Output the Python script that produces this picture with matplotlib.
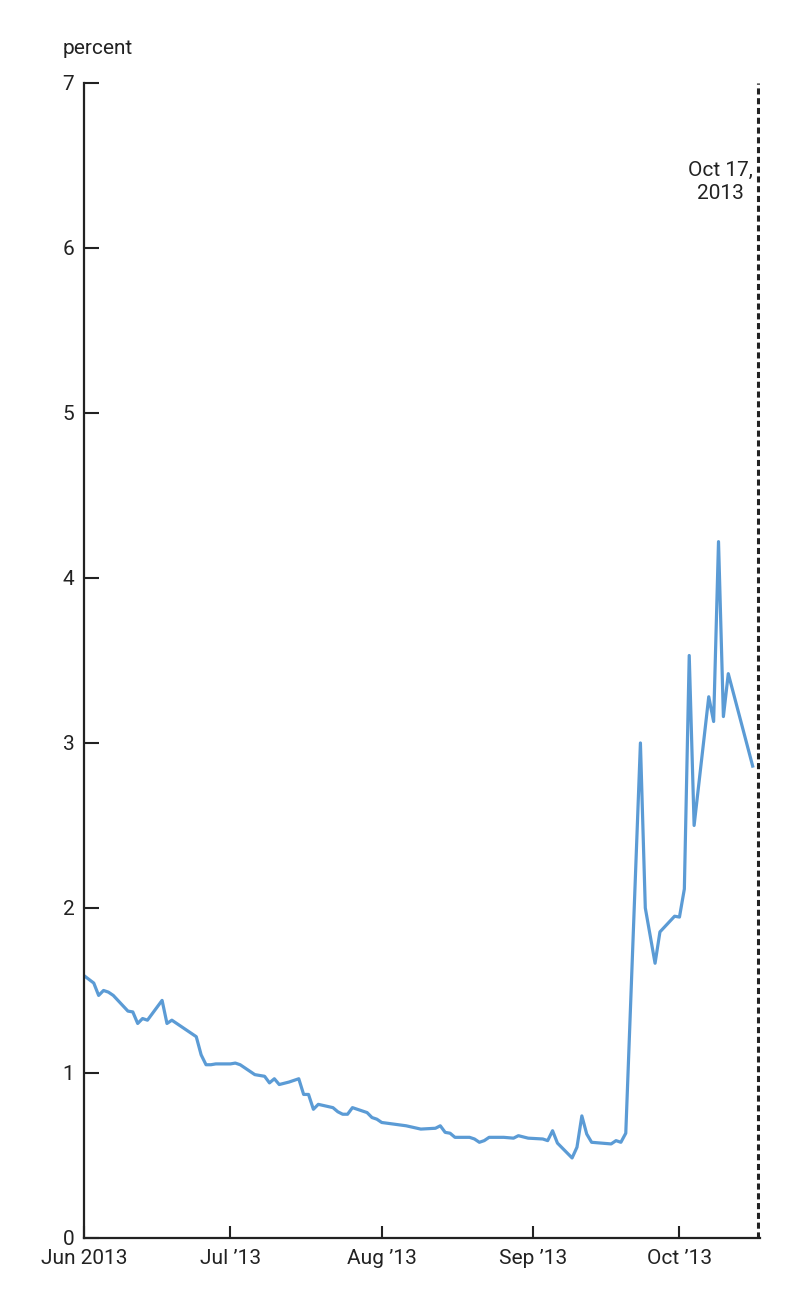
import matplotlib
matplotlib.use('Agg')
import matplotlib.pyplot as plt
import pandas as pd

plt.rcParams['font.family'] = ['Roboto', 'DejaVu Sans']

# daily rate readings, jun - oct 2013
dates = ['2013-06-01', '2013-06-03', '2013-06-04', '2013-06-05', '2013-06-06', '2013-06-07',
         '2013-06-10', '2013-06-11', '2013-06-12', '2013-06-13', '2013-06-14', '2013-06-17',
         '2013-06-18', '2013-06-19', '2013-06-24', '2013-06-25', '2013-06-26', '2013-06-27',
         '2013-06-28', '2013-07-01', '2013-07-02', '2013-07-03', '2013-07-05', '2013-07-06',
         '2013-07-08', '2013-07-09', '2013-07-10', '2013-07-11', '2013-07-13', '2013-07-15',
         '2013-07-16', '2013-07-17', '2013-07-18', '2013-07-19', '2013-07-22', '2013-07-23',
         '2013-07-24', '2013-07-25', '2013-07-26', '2013-07-29', '2013-07-30', '2013-07-31',
         '2013-08-01', '2013-08-06', '2013-08-09', '2013-08-12', '2013-08-13', '2013-08-14',
         '2013-08-15', '2013-08-16', '2013-08-19', '2013-08-20', '2013-08-21', '2013-08-22',
         '2013-08-23', '2013-08-26', '2013-08-28', '2013-08-29', '2013-08-31', '2013-09-03',
         '2013-09-04', '2013-09-05', '2013-09-06', '2013-09-09', '2013-09-10', '2013-09-11',
         '2013-09-12', '2013-09-13', '2013-09-17', '2013-09-18', '2013-09-19', '2013-09-20',
         '2013-09-23', '2013-09-24', '2013-09-26', '2013-09-27', '2013-09-30', '2013-10-01',
         '2013-10-02', '2013-10-03', '2013-10-04', '2013-10-07', '2013-10-08', '2013-10-09',
         '2013-10-10', '2013-10-11', '2013-10-16']
rates = [1.59, 1.545, 1.47, 1.50, 1.49, 1.47,
         1.375, 1.37, 1.30, 1.33, 1.32, 1.44,
         1.30, 1.32, 1.22, 1.11, 1.05, 1.05,
         1.055, 1.055, 1.06, 1.05, 1.01, 0.99,
         0.98, 0.94, 0.965, 0.93, 0.945, 0.965,
         0.87, 0.87, 0.78, 0.81, 0.79, 0.765,
         0.75, 0.75, 0.79, 0.76, 0.73, 0.72,
         0.70, 0.68, 0.66, 0.665, 0.68, 0.64,
         0.635, 0.61, 0.61, 0.60, 0.58, 0.59,
         0.61, 0.61, 0.605, 0.62, 0.605, 0.60,
         0.59, 0.65, 0.575, 0.485, 0.55, 0.74,
         0.63, 0.58, 0.57, 0.59, 0.58, 0.635,
         3.0, 2.0, 1.665, 1.855, 1.95, 1.945,
         2.115, 3.53, 2.50, 3.28, 3.13, 4.22,
         3.16, 3.42, 2.86]

tick_dates = ['2013-06-01', '2013-07-01', '2013-08-01', '2013-09-01', '2013-10-01']
tick_labels = ['Jun 2013', 'Jul \u201913', 'Aug \u201913', 'Sep \u201913', 'Oct \u201913']
y_ticks = [0, 1, 2, 3, 4, 5, 6, 7]
marker_date = '2013-10-17'
marker_text = 'Oct 17,\n2013'

ink = '#222222'
fs = 15
fig = plt.figure(figsize=(8, 13), dpi=100)
ax = fig.add_axes([0.105, 0.0477, 0.845, 0.8885])

x = pd.to_datetime(dates)
ax.plot(x, rates, color='#5b9bd5', lw=2.3)

md = pd.Timestamp(marker_date)
ax.axvline(md, color=ink, lw=2.2, ls=(0, (2.0, 1.2)))
ax.text(md - pd.Timedelta(days=1.0), 6.4, marker_text, ha='right', va='center',
        multialignment='center', fontsize=fs, color=ink, linespacing=1.25)

ax.set_xlim(pd.Timestamp('2013-06-01'), pd.Timestamp('2013-10-17 12:00'))
ax.set_ylim(0, 7)
ax.set_xticks(pd.to_datetime(tick_dates))
ax.set_xticklabels(tick_labels)
ax.set_yticks(y_ticks)

for s in ['top', 'right']:
    ax.spines[s].set_visible(False)
for s in ['left', 'bottom']:
    ax.spines[s].set_color(ink)
    ax.spines[s].set_linewidth(1.6)

ax.tick_params(axis='x', direction='in', length=9, width=1.5, color=ink,
               labelsize=fs, labelcolor=ink, pad=8)
ax.tick_params(axis='y', direction='in', length=11, width=1.5, color=ink,
               labelsize=fs, labelcolor=ink, pad=7)

fig.text(63 / 800, 1 - 48 / 1300, 'percent', ha='left', va='center', fontsize=fs, color=ink)

fig.savefig('out.png', dpi=100)
